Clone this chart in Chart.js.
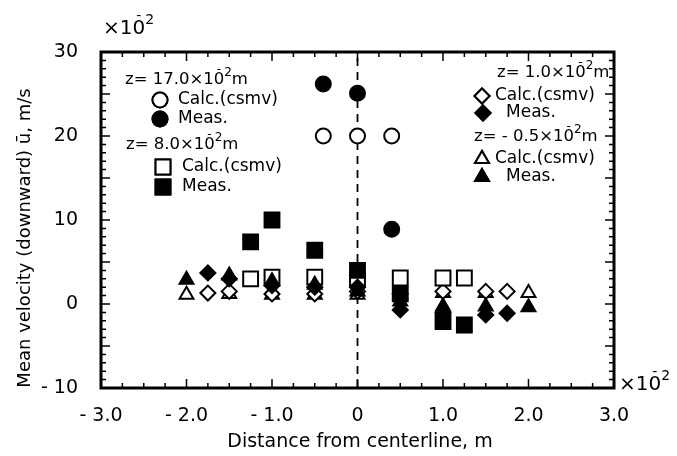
<!DOCTYPE html>
<html>
<head>
<meta charset="utf-8">
<script src="https://cdn.jsdelivr.net/npm/chart.js@4.4.0/dist/chart.umd.min.js"></script>
<style>
    html, body { margin: 0; padding: 0; background: #fff; }
    #wrap { width: 677px; height: 456px; }
</style>
</head>
<body>
<div id="wrap"><canvas id="chart" width="677" height="456"></canvas></div>
<script>
// distance from centerline (x10^-2 m) and mean velocity (x10^-2 m/s)
const xZ17 = [-0.4, 0, 0.4];
const calcZ17 = [20, 20, 20];
const measZ17 = [26.2, 25.1, 8.9];

const xZ8 = [-1.25, -1.0, -0.5, 0, 0.5, 1.0, 1.25];
const calcZ8 = [3.0, 3.2, 3.2, 2.9, 3.1, 3.1, 3.1];
const measZ8 = [7.4, 10.0, 6.4, 4.0, 1.2, -2.1, -2.5];

const xZ1 = [-1.75, -1.5, -1.0, -0.5, 0, 0.5, 1.0, 1.5, 1.75];
const calcZ1 = [1.3, 1.5, 1.2, 1.2, 1.5, 1.2, 1.5, 1.5, 1.5];
const measZ1 = [3.7, 3.0, 2.2, 2.0, 2.0, -0.7, -1.0, -1.3, -1.1];

const xZm05 = [-2.0, -1.5, -1.0, -0.5, 0, 0.5, 1.0, 1.5, 2.0];
const calcZm05 = [1.1, 1.2, 1.1, 1.1, 1.1, 1.2, 1.3, 1.3, 1.3];
const measZm05 = [2.9, 3.4, 2.7, 2.3, 1.5, 0.3, -0.3, -0.3, -0.4];

const centerX = [0, 0];
const centerY = [-10, 30];

const xTicks = [-3, -2, -1, 0, 1, 2, 3];
const yTicks = [-10, 0, 10, 20, 30];

const FONT = '"DejaVu Sans", sans-serif';

const pts = (xs, ys) => xs.map((x, i) => ({ x: x, y: ys[i] }));

// marker styles, shared with the hand drawn legend
const styles = {
    calc17: { pointStyle: 'circle', radius: 7.5, fill: '#fff' },
    meas17: { pointStyle: 'circle', radius: 7.5, fill: '#000' },
    calc8: { pointStyle: 'rect', radius: 10.5, fill: '#fff' },
    meas8: { pointStyle: 'rect', radius: 10.5, fill: '#000' },
    calc1: { pointStyle: 'rectRot', radius: 7.5, fill: '#fff' },
    meas1: { pointStyle: 'rectRot', radius: 7.5, fill: '#000' },
    calcM05: { pointStyle: 'triangle', radius: 8, fill: '#fff' },
    measM05: { pointStyle: 'triangle', radius: 8, fill: '#000' },
};

function markerSet(label, data, st, order) {
    return {
        label: label,
        data: data,
        showLine: false,
        pointStyle: st.pointStyle,
        pointRadius: st.radius,
        pointBackgroundColor: st.fill,
        pointBorderColor: '#000',
        pointBorderWidth: 2,
        order: order,
    };
}

function fmt(v) {
    if (v === 0) return '0';
    return (v < 0 ? '- ' : '') + Math.abs(v);
}

function fmtX(v) {
    if (v === 0) return '0';
    return (v < 0 ? '- ' : '') + Math.abs(v).toFixed(1);
}

// "×10^-2" style power label
function drawPow(ctx, x, y, head, tail, size) {
    ctx.font = size + 'px ' + FONT;
    ctx.fillText(head, x, y);
    const w = ctx.measureText(head).width;
    ctx.font = Math.round(size * 0.72) + 'px ' + FONT;
    ctx.fillText('-', x + w - size * 0.45, y - size * 0.62);
    ctx.fillText('2', x + w, y - size * 0.45);
    if (tail) {
        ctx.font = size + 'px ' + FONT;
        ctx.fillText(tail, x + w + size * 0.45, y);
    }
}

const framePlugin = {
    id: 'frame',
    afterDraw(chart) {
        const ctx = chart.ctx;
        const a = chart.chartArea;
        const sx = chart.scales.x;
        const sy = chart.scales.y;
        ctx.save();
        ctx.strokeStyle = '#000';
        ctx.fillStyle = '#000';

        // inward ticks on all four sides
        ctx.lineWidth = 1.5;
        ctx.beginPath();
        for (let i = -12; i <= 12; i++) {
            const px = sx.getPixelForValue(i * 0.25);
            const len = i % 4 === 0 ? 9 : 5;
            ctx.moveTo(px, a.bottom); ctx.lineTo(px, a.bottom - len);
            ctx.moveTo(px, a.top); ctx.lineTo(px, a.top + len);
        }
        for (let v = -10; v <= 30; v++) {
            const py = sy.getPixelForValue(v);
            const len = v % 5 === 0 ? 9 : 5;
            ctx.moveTo(a.left, py); ctx.lineTo(a.left + len, py);
            ctx.moveTo(a.right, py); ctx.lineTo(a.right - len, py);
        }
        ctx.stroke();

        ctx.lineWidth = 3;
        ctx.strokeRect(a.left, a.top, a.right - a.left, a.bottom - a.top);

        // axis power labels
        ctx.textBaseline = 'middle';
        ctx.textAlign = 'left';
        drawPow(ctx, 103, 29, '×10', '', 20);
        drawPow(ctx, 619, 385, '×10', '', 20);

        // axis titles
        ctx.font = '19px ' + FONT;
        ctx.textAlign = 'center';
        ctx.fillText('Distance from centerline, m', 360, 442);
        ctx.font = '18px ' + FONT;
        ctx.save();
        ctx.translate(25, 238);
        ctx.rotate(-Math.PI / 2);
        ctx.fillText('Mean velocity (downward) ū, m/s', 0, 0);
        ctx.restore();

        // legend
        ctx.textAlign = 'left';
        const entry = (st, mx, my, text, tx) => {
            ctx.fillStyle = st.fill;
            ctx.lineWidth = 2;
            Chart.helpers.drawPoint(ctx, { pointStyle: st.pointStyle, radius: st.radius, borderWidth: 2 }, mx, my);
            ctx.fill();
            ctx.stroke();
            ctx.fillStyle = '#000';
            ctx.font = '17px ' + FONT;
            ctx.fillText(text, tx, my);
        };
        ctx.fillStyle = '#000';
        drawPow(ctx, 125, 80, 'z= 17.0×10', 'm', 16.5);
        entry(styles.calc17, 160, 100, 'Calc.(csmv)', 178);
        entry(styles.meas17, 160, 119, 'Meas.', 178);
        drawPow(ctx, 126, 145, 'z= 8.0×10', 'm', 16.5);
        entry(styles.calc8, 163, 167, 'Calc.(csmv)', 182);
        entry(styles.meas8, 163, 187, 'Meas.', 182);

        drawPow(ctx, 497, 73, 'z= 1.0×10', 'm', 16.5);
        entry(styles.calc1, 482, 96, 'Calc.(csmv)', 495);
        entry(styles.meas1, 483, 113, 'Meas.', 506);
        drawPow(ctx, 474, 137, 'z= - 0.5×10', 'm', 16.5);
        entry(styles.calcM05, 482, 159, 'Calc.(csmv)', 495);
        entry(styles.measM05, 482, 177, 'Meas.', 506);

        ctx.restore();
    }
};

new Chart(document.getElementById('chart'), {
    type: 'scatter',
    data: {
        datasets: [
            markerSet('z=17.0 Meas.', pts(xZ17, measZ17), styles.meas17, 1),
            markerSet('z=8.0 Meas.', pts(xZ8, measZ8), styles.meas8, 1),
            markerSet('z=1.0 Meas.', pts(xZ1, measZ1), styles.meas1, 1),
            markerSet('z=-0.5 Meas.', pts(xZm05, measZm05), styles.measM05, 1),
            markerSet('z=17.0 Calc.', pts(xZ17, calcZ17), styles.calc17, 2),
            markerSet('z=8.0 Calc.', pts(xZ8, calcZ8), styles.calc8, 2),
            markerSet('z=1.0 Calc.', pts(xZ1, calcZ1), styles.calc1, 2),
            markerSet('z=-0.5 Calc.', pts(xZm05, calcZm05), styles.calcM05, 2),
            {
                label: 'centerline',
                data: pts(centerX, centerY),
                showLine: true,
                borderColor: '#000',
                borderWidth: 1.8,
                borderDash: [8, 6],
                pointRadius: 0,
                order: 10,
            },
        ]
    },
    options: {
        responsive: false,
        animation: false,
        events: [],
        layout: { padding: { left: 0, right: 63, top: 52, bottom: 0 } },
        plugins: {
            legend: { display: false },
            tooltip: { enabled: false },
        },
        scales: {
            x: {
                type: 'linear',
                min: -3,
                max: 3,
                afterFit: s => { s.height = 68; },
                afterBuildTicks: s => { s.ticks = xTicks.map(v => ({ value: v })); },
                grid: { display: false },
                border: { display: false },
                ticks: {
                    color: '#000',
                    padding: 9,
                    maxRotation: 0,
                    font: { family: FONT, size: 19 },
                    callback: v => fmtX(v),
                },
            },
            y: {
                type: 'linear',
                min: -10,
                max: 30,
                afterFit: s => { s.width = 101; },
                afterBuildTicks: s => { s.ticks = yTicks.map(v => ({ value: v })); },
                grid: { display: false },
                border: { display: false },
                ticks: {
                    color: '#000',
                    padding: 15,
                    font: { family: FONT, size: 19 },
                    callback: v => fmt(v),
                },
            },
        },
    },
    plugins: [framePlugin],
});
</script>
</body>
</html>
